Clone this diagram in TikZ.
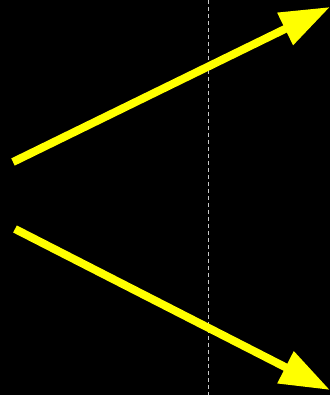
\documentclass[tikz,border=0pt]{standalone}
\usetikzlibrary{arrows.meta}
\definecolor{arrowyellow}{RGB}{255,255,0}
\definecolor{dashgray}{RGB}{200,200,200}
\tikzset{
  bigarrow/.style={draw=arrowyellow, line width=8pt, -{Triangle[length=50pt,width=34pt,fill=arrowyellow]}},
  divider/.style={draw=dashgray, line width=1pt, dash pattern=on 4pt off 3pt}
}
\begin{document}
\begin{tikzpicture}[x=1pt,y=1pt]
  \fill[black] (0,0) rectangle (330,395);
  \useasboundingbox (0,0) rectangle (330,395);
  \coordinate (d1) at (208,395);
  \coordinate (d2) at (208,0);
  \draw[divider] (d1) -- (d2);
  \coordinate (u1) at (13,233);
  \coordinate (u2) at (330,388);
  \coordinate (l1) at (15,166);
  \coordinate (l2) at (330,5);
  \draw[bigarrow] (u1) -- (u2);
  \draw[bigarrow] (l1) -- (l2);
\end{tikzpicture}
\end{document}
